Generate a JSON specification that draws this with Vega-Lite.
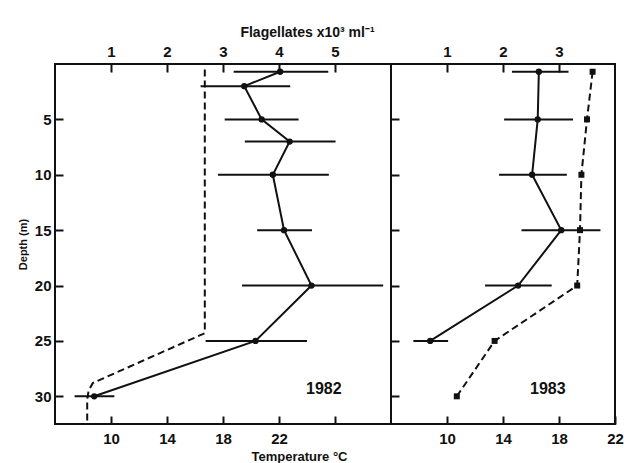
{
  "$schema": "https://vega.github.io/schema/vega-lite/v6.json",
  "background": "white",
  "padding": {"left": 16, "top": 24, "right": 0, "bottom": 0},
  "spacing": 0,
  "bounds": "flush",
  "config": {
    "font": "Liberation Sans",
    "view": {"stroke": "#111", "strokeWidth": 2},
    "axis": {
      "domain": false,
      "grid": false,
      "tickColor": "#111",
      "tickWidth": 2,
      "tickSize": -8,
      "labelFont": "Liberation Sans",
      "labelFontSize": 15,
      "labelFontWeight": "bold",
      "labelColor": "#111",
      "labelFlush": false,
      "format": "d",
      "titleFont": "Liberation Sans",
      "titleFontWeight": "bold",
      "titleColor": "#111"
    }
  },
  "datasets": {
    "flag": [
      {"year": 1982, "depth": 0.7, "mean": 4.02, "lo": 3.19, "hi": 4.88},
      {"year": 1982, "depth": 2, "mean": 3.38, "lo": 2.6, "hi": 4.2},
      {"year": 1982, "depth": 5, "mean": 3.69, "lo": 3.03, "hi": 4.35},
      {"year": 1982, "depth": 7, "mean": 4.19, "lo": 3.39, "hi": 5.01},
      {"year": 1982, "depth": 10, "mean": 3.89, "lo": 2.91, "hi": 4.89},
      {"year": 1982, "depth": 15, "mean": 4.09, "lo": 3.61, "hi": 4.59},
      {"year": 1982, "depth": 20, "mean": 4.58, "lo": 3.34, "hi": 5.86},
      {"year": 1982, "depth": 25, "mean": 3.58, "lo": 2.69, "hi": 4.5},
      {"year": 1982, "depth": 30, "mean": 0.7, "lo": 0.35, "hi": 1.06},
      {"year": 1983, "depth": 0.7, "mean": 2.64, "lo": 2.16, "hi": 3.17},
      {"year": 1983, "depth": 5, "mean": 2.62, "lo": 2.02, "hi": 3.25},
      {"year": 1983, "depth": 10, "mean": 2.52, "lo": 1.93, "hi": 3.14},
      {"year": 1983, "depth": 15, "mean": 3.04, "lo": 2.33, "hi": 3.74},
      {"year": 1983, "depth": 20, "mean": 2.27, "lo": 1.68, "hi": 2.87},
      {"year": 1983, "depth": 25, "mean": 0.7, "lo": 0.4, "hi": 1.02}
    ],
    "temp": [
      {"year": 1982, "depth": 0.5, "temp": 16.7},
      {"year": 1982, "depth": 24.3, "temp": 16.7},
      {"year": 1982, "depth": 28.8, "temp": 8.7},
      {"year": 1982, "depth": 29.5, "temp": 8.4},
      {"year": 1982, "depth": 30.3, "temp": 8.3},
      {"year": 1982, "depth": 32.5, "temp": 8.3},
      {"year": 1983, "depth": 0.7, "temp": 20.4},
      {"year": 1983, "depth": 5, "temp": 20.0},
      {"year": 1983, "depth": 10, "temp": 19.6},
      {"year": 1983, "depth": 15, "temp": 19.5},
      {"year": 1983, "depth": 20, "temp": 19.3},
      {"year": 1983, "depth": 25, "temp": 13.4},
      {"year": 1983, "depth": 30, "temp": 10.7}
    ]
  },
  "hconcat": [
    {
      "width": 336,
      "height": 360,
      "layer": [
        {
          "data": {"name": "flag"},
          "transform": [{"filter": "datum.year == 1982"}],
          "layer": [
            {
              "mark": {"type": "rule", "strokeWidth": 2, "color": "#111"},
              "encoding": {
                "x": {"field": "lo", "type": "quantitative", "scale": {"domain": [0, 6], "nice": false, "zero": false},
                      "axis": {"orient": "top", "values": [1, 2, 3, 4, 5], "title": "Flagellates  x10³ ml⁻¹", "titleFontSize": 14, "labelPadding": 13, "titlePadding": 5, "titleX": 252}},
                "x2": {"field": "hi"},
                "y": {"field": "depth", "type": "quantitative", "scale": {"domain": [0, 32.5], "reverse": true, "nice": false, "zero": false},
                      "axis": {"orient": "left", "values": [5, 10, 15, 20, 25, 30], "title": "Depth (m)", "titleFontSize": 11, "labelPadding": 12, "titlePadding": 6}}
              }
            },
            {
              "mark": {"type": "line", "strokeWidth": 2, "color": "#111"},
              "encoding": {
                "x": {"field": "mean", "type": "quantitative"},
                "y": {"field": "depth", "type": "quantitative"},
                "order": {"field": "depth", "type": "quantitative"}
              }
            },
            {
              "mark": {"type": "point", "shape": "circle", "filled": true, "size": 40, "opacity": 1, "color": "#111"},
              "encoding": {
                "x": {"field": "mean", "type": "quantitative"},
                "y": {"field": "depth", "type": "quantitative"}
              }
            }
          ]
        },
        {
          "layer": [
            {
              "data": {"name": "temp"},
              "transform": [{"filter": "datum.year == 1982"}],
              "mark": {"type": "line", "strokeWidth": 2, "strokeDash": [7, 4], "color": "#111"},
              "encoding": {
                "x": {"field": "temp", "type": "quantitative", "scale": {"domain": [6, 30], "nice": false, "zero": false},
                      "axis": {"orient": "bottom", "values": [10, 14, 18, 22, 26], "labelExpr": "datum.value == 26 ? '' : datum.label", "title": "Temperature °C", "titleFontSize": 13, "labelPadding": 15, "titlePadding": 4, "titleX": 244}},
                "y": {"field": "depth", "type": "quantitative"},
                "order": {"field": "depth", "type": "quantitative"}
              }
            },
            {
              "data": {"values": [{}]},
              "mark": {"type": "text", "fontSize": 16, "fontWeight": "bold", "color": "#111", "font": "Liberation Sans"},
              "encoding": {
                "x": {"datum": 25.2, "type": "quantitative"},
                "y": {"datum": 29.3, "type": "quantitative"},
                "text": {"value": "1982"}
              }
            }
          ]
        }
      ],
      "resolve": {"scale": {"x": "independent"}, "axis": {"x": "independent"}}
    },
    {
      "width": 224,
      "height": 360,
      "layer": [
        {
          "data": {"name": "flag"},
          "transform": [{"filter": "datum.year == 1983"}],
          "layer": [
            {
              "mark": {"type": "rule", "strokeWidth": 2, "color": "#111"},
              "encoding": {
                "x": {"field": "lo", "type": "quantitative", "scale": {"domain": [0, 4], "nice": false, "zero": false},
                      "axis": {"orient": "top", "values": [1, 2, 3], "title": null, "labelPadding": 13}},
                "x2": {"field": "hi"},
                "y": {"field": "depth", "type": "quantitative", "scale": {"domain": [0, 32.5], "reverse": true, "nice": false, "zero": false},
                      "axis": {"orient": "left", "values": [5, 10, 15, 20, 25, 30], "title": null, "labels": false, "minExtent": 0, "maxExtent": 0}}
              }
            },
            {
              "mark": {"type": "line", "strokeWidth": 2, "color": "#111"},
              "encoding": {
                "x": {"field": "mean", "type": "quantitative"},
                "y": {"field": "depth", "type": "quantitative"},
                "order": {"field": "depth", "type": "quantitative"}
              }
            },
            {
              "mark": {"type": "point", "shape": "circle", "filled": true, "size": 40, "opacity": 1, "color": "#111"},
              "encoding": {
                "x": {"field": "mean", "type": "quantitative"},
                "y": {"field": "depth", "type": "quantitative"}
              }
            }
          ]
        },
        {
          "layer": [
            {
              "data": {"name": "temp"},
              "transform": [{"filter": "datum.year == 1983"}],
              "layer": [
                {
                  "mark": {"type": "line", "strokeWidth": 2, "strokeDash": [7, 4], "color": "#111"},
                  "encoding": {
                    "x": {"field": "temp", "type": "quantitative", "scale": {"domain": [6, 22], "nice": false, "zero": false},
                          "axis": {"orient": "bottom", "values": [10, 14, 18, 22], "title": null, "labelPadding": 15}},
                    "y": {"field": "depth", "type": "quantitative"},
                    "order": {"field": "depth", "type": "quantitative"}
                  }
                },
                {
                  "mark": {"type": "point", "shape": "square", "filled": true, "size": 36, "opacity": 1, "color": "#111"},
                  "encoding": {
                    "x": {"field": "temp", "type": "quantitative"},
                    "y": {"field": "depth", "type": "quantitative"}
                  }
                }
              ]
            },
            {
              "data": {"values": [{}]},
              "mark": {"type": "text", "fontSize": 16, "fontWeight": "bold", "color": "#111", "font": "Liberation Sans"},
              "encoding": {
                "x": {"datum": 17.2, "type": "quantitative"},
                "y": {"datum": 29.3, "type": "quantitative"},
                "text": {"value": "1983"}
              }
            }
          ]
        }
      ],
      "resolve": {"scale": {"x": "independent"}, "axis": {"x": "independent"}}
    }
  ]
}
